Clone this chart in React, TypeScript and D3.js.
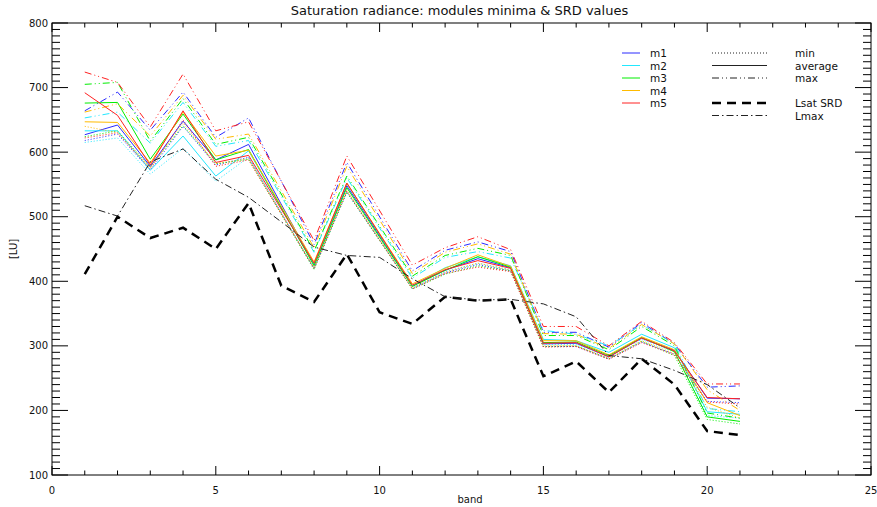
import React from "react";
import * as d3 from "d3";

const W = 877;
const H = 507;

const bandsM = [1, 2, 3, 4, 5, 6, 8, 9, 11, 12, 13, 14, 15, 16, 17, 18, 19, 20, 21];
const bandsAll = [1, 2, 3, 4, 5, 6, 7, 8, 9, 10, 11, 12, 13, 14, 15, 16, 17, 18, 19, 20, 21];

const m1Min = [618, 628, 572, 640, 580, 592, 420, 538, 389, 413, 426, 416, 299, 299, 280, 306, 287, 214, 212];
const m1Avg = [627, 642, 578, 648, 588, 612, 426, 548, 393, 417, 435, 421, 303, 304, 283, 312, 293, 219, 218];
const m1Max = [664, 693, 634, 693, 623, 653, 457, 584, 416, 448, 461, 446, 321, 321, 298, 336, 303, 236, 238];

const m2Min = [615, 622, 566, 606, 555, 592, 420, 545, 389, 415, 428, 418, 302, 302, 284, 310, 291, 192, 188];
const m2Avg = [633, 633, 572, 625, 563, 602, 425, 552, 393, 421, 438, 424, 310, 308, 290, 318, 297, 198, 194];
const m2Max = [653, 662, 614, 677, 609, 618, 445, 560, 405, 437, 446, 436, 324, 318, 300, 333, 303, 203, 198];

const m3Min = [624, 633, 577, 641, 582, 589, 418, 538, 388, 411, 424, 416, 299, 300, 280, 307, 285, 186, 179];
const m3Avg = [676, 677, 589, 659, 588, 604, 424, 545, 392, 417, 438, 422, 305, 306, 285, 313, 291, 190, 183];
const m3Max = [705, 708, 617, 683, 612, 623, 447, 563, 408, 440, 451, 440, 316, 316, 294, 330, 300, 196, 188];

const m4Min = [640, 630, 576, 645, 582, 590, 421, 541, 390, 414, 428, 417, 300, 300, 281, 308, 288, 205, 188];
const m4Avg = [647, 646, 583, 662, 594, 603, 430, 552, 396, 420, 441, 423, 308, 308, 286, 314, 294, 212, 192];
const m4Max = [662, 675, 625, 688, 620, 628, 452, 578, 412, 445, 458, 442, 319, 318, 296, 333, 303, 232, 200];

const m5Min = [622, 630, 574, 650, 578, 588, 420, 540, 388, 412, 422, 415, 298, 299, 279, 305, 286, 213, 210];
const m5Avg = [692, 657, 580, 664, 584, 595, 428, 552, 394, 418, 432, 420, 304, 305, 283, 312, 292, 220, 218];
const m5Max = [724, 708, 639, 721, 633, 647, 463, 594, 425, 452, 469, 449, 330, 330, 300, 338, 305, 241, 241];

const lsatSRD = [411, 500, 467, 483, 450, 521, 393, 368, 442, 352, 334, 376, 370, 372, 253, 276, 228, 280, 240, 168, 162];
const lmaxVals = [517, 501, 585, 605, 558, 530, 492, 453, 440, 437, 404, 376, 371, 372, 365, 345, 285, 280, 262, 240, 204];

const moduleNames = ["m1", "m2", "m3", "m4", "m5"];
const moduleColors = ["#2a2aff", "#22e8ff", "#00ee00", "#ffbb00", "#ff2222"];
const moduleSeries = [
  [m1Min, m1Avg, m1Max],
  [m2Min, m2Avg, m2Max],
  [m3Min, m3Avg, m3Max],
  [m4Min, m4Avg, m4Max],
  [m5Min, m5Avg, m5Max],
];
const statNames = ["min", "average", "max"];
const statDash = ["1,2", "none", "7,3,1,3,1,3"];

const xTickLabels = [0, 5, 10, 15, 20, 25];
const yTickLabels = [100, 200, 300, 400, 500, 600, 700, 800];

const L = 52, R = 871, T = 23, B = 475;
const FONT = "DejaVu Sans, sans-serif";

export default function App() {
  const x = d3.scaleLinear().domain([0, 25]).range([L, R]);
  const y = d3.scaleLinear().domain([100, 800]).range([B, T]);

  const lineGen = (bands: number[]) =>
    d3
      .line<number>()
      .x((_, i) => x(bands[i]))
      .y((v) => y(v));

  const xMinor = d3.range(0, 26, 1);
  const yMinor = d3.range(100, 801, 10);

  const legRows = [53, 65.5, 78, 90.5, 103, 115.5];

  return (
    <svg
      width={W}
      height={H}
      style={{ position: "absolute", left: 0, top: 0, background: "#fff" }}
      fontFamily={FONT}
    >
      <rect x={0} y={0} width={W} height={H} fill="#fff" />
      <text x={(L + R) / 2 - 2} y={15} textAnchor="middle" fontSize={13} fill="#111">
        Saturation radiance: modules minima &amp; SRD values
      </text>

      {/* axes box */}
      <rect x={L} y={T} width={R - L} height={B - T} fill="none" stroke="#000" strokeWidth={1} />

      {xMinor.map((t) => {
        const len = t % 5 === 0 ? 9 : 4.5;
        return (
          <g key={"xt" + t}>
            <line x1={x(t)} x2={x(t)} y1={B} y2={B - len} stroke="#000" />
            <line x1={x(t)} x2={x(t)} y1={T} y2={T + len} stroke="#000" />
          </g>
        );
      })}
      {yMinor.map((t) => {
        const len = t % 100 === 0 ? 16 : 8;
        return (
          <g key={"yt" + t}>
            <line x1={L} x2={L + len} y1={y(t)} y2={y(t)} stroke="#000" />
            <line x1={R} x2={R - len} y1={y(t)} y2={y(t)} stroke="#000" />
          </g>
        );
      })}
      {xTickLabels.map((t) => (
        <text key={"xl" + t} x={x(t)} y={494} textAnchor="middle" fontSize={10} fill="#111">
          {t}
        </text>
      ))}
      {yTickLabels.map((t) => (
        <text key={"yl" + t} x={48} y={y(t) + 3.5} textAnchor="end" fontSize={10} fill="#111">
          {t}
        </text>
      ))}
      <text x={470} y={503} textAnchor="middle" fontSize={10} fill="#111">
        band
      </text>
      <text
        x={0}
        y={0}
        transform={`translate(17, 249) rotate(-90)`}
        textAnchor="middle"
        fontSize={10}
        fill="#111"
      >
        [LU]
      </text>

      <g>
        {moduleSeries.map((ser, mi) =>
          ser.map((vals, si) => (
            <path
              key={`m${mi}s${si}`}
              d={lineGen(bandsM)(vals) || ""}
              fill="none"
              stroke={moduleColors[mi]}
              strokeWidth={1}
              strokeDasharray={statDash[si]}
            />
          ))
        )}
        <path
          d={lineGen(bandsAll)(lsatSRD) || ""}
          fill="none"
          stroke="#000"
          strokeWidth={2.5}
          strokeDasharray="9,6"
        />
        <path
          d={lineGen(bandsAll)(lmaxVals) || ""}
          fill="none"
          stroke="#222"
          strokeWidth={1}
          strokeDasharray="7,3,1.5,3"
        />
      </g>

      {/* legend */}
      <g fontSize={10.5} fill="#111">
        {moduleNames.map((n, i) => (
          <g key={n}>
            <line x1={622} x2={640} y1={legRows[i]} y2={legRows[i]} stroke={moduleColors[i]} strokeWidth={1} />
            <text x={650} y={legRows[i] + 4}>
              {n}
            </text>
          </g>
        ))}
        {statNames.map((n, i) => (
          <g key={n}>
            <line
              x1={712}
              x2={767}
              y1={legRows[i]}
              y2={legRows[i]}
              stroke="#222"
              strokeWidth={1}
              strokeDasharray={statDash[i]}
            />
            <text x={795} y={legRows[i] + 4}>
              {n}
            </text>
          </g>
        ))}
        <line x1={712} x2={767} y1={legRows[4]} y2={legRows[4]} stroke="#000" strokeWidth={2.5} strokeDasharray="9,6" />
        <text x={795} y={legRows[4] + 4}>
          Lsat SRD
        </text>
        <line x1={712} x2={767} y1={legRows[5]} y2={legRows[5]} stroke="#222" strokeWidth={1} strokeDasharray="7,3,1.5,3" />
        <text x={795} y={legRows[5] + 4}>
          Lmax
        </text>
      </g>
    </svg>
  );
}
